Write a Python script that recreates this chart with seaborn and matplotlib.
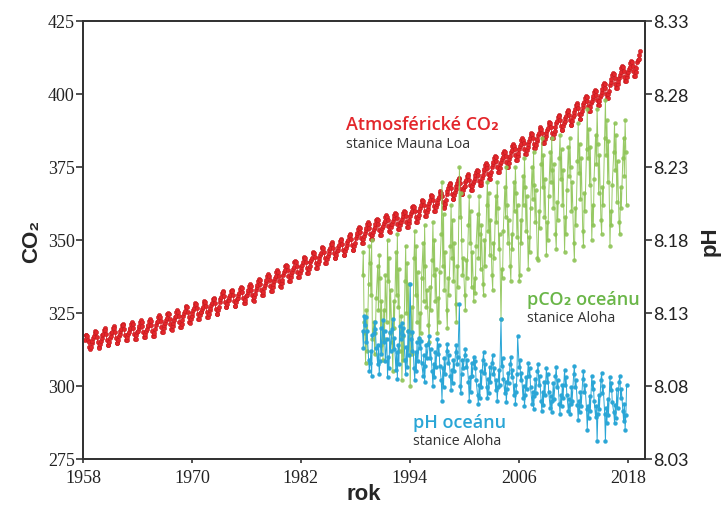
import numpy as np
import pandas as pd
import matplotlib
matplotlib.use("Agg")
import matplotlib.pyplot as plt
import seaborn as sns

# ---------------- data ----------------
# Mauna Loa monthly CO2 (ppm); first row starts in March 1958, last row ends May 2019
ml_start_year = 1958
ml_first_month = 3
ml_co2 = [
    [315.7, 317.5, 317.5, 317.1, 315.9, 314.9, 313.2, 312.7, 313.3, 314.7],
    [315.4, 316.4, 317.0, 318.3, 318.9, 318.4, 316.9, 314.9, 313.2, 313.1, 314.3, 315.4],
    [316.3, 317.3, 317.9, 319.2, 319.8, 319.3, 317.8, 315.8, 314.1, 314.0, 315.2, 316.3],
    [317.0, 318.0, 318.6, 319.9, 320.5, 320.0, 318.5, 316.5, 314.8, 314.7, 315.9, 317.0],
    [317.9, 318.9, 319.5, 320.8, 321.4, 320.9, 319.4, 317.4, 315.7, 315.6, 316.8, 317.9],
    [318.4, 319.4, 320.0, 321.3, 321.9, 321.4, 319.9, 317.9, 316.2, 316.1, 317.3, 318.4],
    [319.0, 320.0, 320.6, 321.9, 322.5, 322.0, 320.5, 318.5, 316.8, 316.7, 317.9, 319.0],
    [319.4, 320.4, 321.0, 322.3, 322.9, 322.4, 320.9, 318.9, 317.2, 317.1, 318.3, 319.4],
    [320.8, 321.8, 322.4, 323.7, 324.3, 323.8, 322.3, 320.3, 318.6, 318.5, 319.7, 320.8],
    [321.6, 322.6, 323.2, 324.5, 325.1, 324.6, 323.1, 321.1, 319.4, 319.3, 320.5, 321.6],
    [322.5, 323.5, 324.1, 325.4, 326.0, 325.5, 324.0, 322.0, 320.3, 320.2, 321.4, 322.5],
    [324.0, 325.0, 325.6, 326.9, 327.5, 327.0, 325.5, 323.5, 321.8, 321.7, 322.9, 324.0],
    [324.9, 325.9, 326.6, 327.9, 328.5, 328.1, 326.7, 324.7, 323.0, 322.9, 324.2, 325.3],
    [325.5, 326.5, 327.2, 328.5, 329.1, 328.7, 327.3, 325.3, 323.6, 323.5, 324.8, 325.9],
    [326.7, 327.7, 328.4, 329.7, 330.3, 329.9, 328.5, 326.5, 324.8, 324.7, 326.0, 327.1],
    [328.9, 329.9, 330.6, 331.9, 332.5, 332.1, 330.7, 328.7, 327.0, 326.9, 328.2, 329.3],
    [329.4, 330.4, 331.1, 332.4, 333.0, 332.6, 331.2, 329.2, 327.5, 327.4, 328.7, 329.8],
    [330.3, 331.3, 332.0, 333.3, 333.9, 333.5, 332.1, 330.1, 328.4, 328.3, 329.6, 330.7],
    [331.2, 332.2, 332.9, 334.2, 334.8, 334.4, 333.0, 331.0, 329.3, 329.2, 330.5, 331.6],
    [333.0, 334.0, 334.7, 336.0, 336.6, 336.2, 334.8, 332.8, 331.1, 331.0, 332.3, 333.4],
    [334.6, 335.6, 336.3, 337.6, 338.2, 337.8, 336.4, 334.4, 332.7, 332.6, 333.9, 335.0],
    [336.0, 337.0, 337.7, 339.0, 339.6, 339.2, 337.8, 335.8, 334.1, 334.0, 335.3, 336.4],
    [337.9, 338.9, 339.6, 341.0, 341.6, 341.1, 339.8, 337.8, 336.1, 336.1, 337.4, 338.5],
    [339.2, 340.2, 340.9, 342.3, 342.9, 342.4, 341.1, 339.1, 337.4, 337.4, 338.7, 339.8],
    [340.6, 341.6, 342.3, 343.7, 344.3, 343.8, 342.5, 340.5, 338.8, 338.8, 340.1, 341.2],
    [342.3, 343.3, 344.0, 345.4, 346.0, 345.5, 344.2, 342.2, 340.5, 340.5, 341.8, 342.9],
    [344.0, 345.0, 345.7, 347.1, 347.7, 347.2, 345.9, 343.9, 342.2, 342.2, 343.5, 344.6],
    [345.5, 346.5, 347.2, 348.6, 349.2, 348.7, 347.4, 345.4, 343.7, 343.7, 345.0, 346.1],
    [346.7, 347.7, 348.4, 349.8, 350.4, 349.9, 348.6, 346.6, 344.9, 344.9, 346.2, 347.3],
    [348.4, 349.4, 350.1, 351.5, 352.1, 351.6, 350.3, 348.3, 346.6, 346.6, 347.9, 349.0],
    [350.8, 351.8, 352.5, 353.9, 354.5, 354.0, 352.7, 350.7, 349.0, 349.0, 350.3, 351.4],
    [352.3, 353.3, 354.0, 355.4, 356.0, 355.5, 354.2, 352.2, 350.5, 350.5, 351.8, 352.9],
    [353.6, 354.6, 355.4, 356.7, 357.3, 356.8, 355.5, 353.5, 351.8, 351.7, 353.1, 354.2],
    [354.8, 355.8, 356.6, 357.9, 358.5, 358.0, 356.7, 354.7, 353.0, 352.9, 354.3, 355.4],
    [355.6, 356.6, 357.4, 358.7, 359.3, 358.8, 357.5, 355.5, 353.8, 353.7, 355.1, 356.2],
    [356.3, 357.3, 358.1, 359.4, 360.0, 359.5, 358.2, 356.2, 354.5, 354.4, 355.8, 356.9],
    [358.1, 359.1, 359.9, 361.2, 361.8, 361.3, 360.0, 358.0, 356.3, 356.2, 357.6, 358.7],
    [360.1, 361.1, 361.9, 363.2, 363.8, 363.3, 362.0, 360.0, 358.3, 358.2, 359.6, 360.7],
    [361.8, 362.8, 363.6, 364.9, 365.5, 365.0, 363.7, 361.7, 360.0, 359.9, 361.3, 362.4],
    [363.0, 364.0, 364.8, 366.1, 366.7, 366.2, 364.9, 362.9, 361.2, 361.1, 362.5, 363.6],
    [365.9, 366.9, 367.7, 369.0, 369.6, 369.1, 367.8, 365.8, 364.1, 364.0, 365.4, 366.5],
    [367.6, 368.6, 369.4, 370.7, 371.3, 370.8, 369.5, 367.5, 365.8, 365.7, 367.1, 368.2],
    [368.6, 369.7, 370.5, 371.8, 372.5, 372.0, 370.7, 368.7, 367.1, 367.1, 368.4, 369.6],
    [370.2, 371.3, 372.1, 373.4, 374.1, 373.6, 372.3, 370.3, 368.7, 368.7, 370.0, 371.2],
    [372.4, 373.5, 374.3, 375.6, 376.3, 375.8, 374.5, 372.5, 370.9, 370.9, 372.2, 373.4],
    [374.9, 376.0, 376.8, 378.1, 378.8, 378.3, 377.0, 375.0, 373.4, 373.4, 374.7, 375.9],
    [376.6, 377.7, 378.5, 379.8, 380.5, 380.0, 378.7, 376.7, 375.1, 375.1, 376.4, 377.6],
    [378.9, 380.0, 380.8, 382.1, 382.8, 382.3, 381.0, 379.0, 377.4, 377.4, 378.7, 379.9],
    [381.0, 382.1, 382.9, 384.2, 384.9, 384.4, 383.1, 381.1, 379.5, 379.5, 380.8, 382.0],
    [382.9, 384.0, 384.8, 386.1, 386.8, 386.3, 385.0, 383.0, 381.4, 381.4, 382.7, 383.9],
    [384.7, 385.8, 386.6, 387.9, 388.6, 388.1, 386.8, 384.8, 383.2, 383.2, 384.5, 385.7],
    [386.5, 387.6, 388.4, 389.7, 390.4, 389.9, 388.6, 386.6, 385.0, 385.0, 386.3, 387.5],
    [388.8, 389.9, 390.7, 392.1, 392.8, 392.4, 391.1, 389.2, 387.6, 387.6, 389.0, 390.2],
    [390.6, 391.7, 392.5, 393.9, 394.6, 394.2, 392.9, 391.0, 389.4, 389.4, 390.8, 392.0],
    [392.8, 393.9, 394.7, 396.1, 396.8, 396.4, 395.1, 393.2, 391.6, 391.6, 393.0, 394.2],
    [395.4, 396.5, 397.3, 398.7, 399.4, 399.0, 397.7, 395.8, 394.2, 394.2, 395.6, 396.8],
    [397.5, 398.6, 399.4, 400.8, 401.5, 401.1, 399.8, 397.9, 396.3, 396.3, 397.7, 398.9],
    [399.7, 400.8, 401.6, 403.0, 403.7, 403.3, 402.0, 400.1, 398.5, 398.5, 399.9, 401.1],
    [403.1, 404.2, 405.0, 406.4, 407.1, 406.7, 405.4, 403.5, 401.9, 401.9, 403.3, 404.5],
    [405.5, 406.6, 407.4, 408.8, 409.5, 409.1, 407.8, 405.9, 404.3, 404.3, 405.7, 406.9],
    [407.4, 408.5, 409.3, 410.7, 411.4, 411.0, 409.7, 407.8, 406.2, 406.2, 407.6, 408.8],
    [410.9, 411.7, 412.1, 413.4, 414.7],
]

# Station ALOHA cruises: first row = 1988 (Oct-Dec), then 1989..2017
hot_start_year = 1988
hot_first_months = [10, 11, 12]
hot_months = [1, 2, 3, 4, 6, 7, 8, 9, 10, 11]
hot_pco2 = [
    [338, 346, 322],
    [318, 308, 326, 312, 335, 348, 342, 331, 350, 316],
    [322, 311, 318, 330, 341, 326, 345, 337, 314, 329],
    [309, 326, 316, 338, 322, 350, 336, 344, 318, 333],
    [315, 305, 329, 320, 346, 331, 352, 327, 340, 312],
    [324, 302, 317, 309, 336, 348, 325, 342, 319, 335],
    [300, 318, 327, 311, 344, 353, 331, 348, 322, 339],
    [316, 325, 318, 337, 349, 329, 355, 341, 327, 333],
    [321, 315, 334, 326, 343, 356, 338, 350, 329, 340],
    [318, 330, 322, 339, 352, 370, 341, 359, 333, 346],
    [326, 320, 337, 331, 348, 362, 344, 357, 336, 349],
    [328, 322, 341, 334, 375, 358, 366, 350, 338, 344],
    [331, 326, 343, 337, 355, 365, 349, 360, 334, 346],
    [329, 337, 332, 348, 359, 344, 365, 352, 340, 355],
    [335, 331, 350, 341, 362, 370, 353, 366, 345, 357],
    [338, 333, 349, 344, 365, 356, 370, 361, 347, 352],
    [323, 340, 337, 353, 368, 358, 375, 362, 349, 357],
    [341, 336, 352, 347, 370, 360, 375, 366, 351, 362],
    [336, 338, 357, 349, 372, 362, 378, 368, 353, 365],
    [340, 351, 346, 361, 375, 364, 380, 369, 356, 367],
    [344, 343, 360, 354, 376, 385, 368, 379, 358, 371],
    [345, 356, 350, 365, 380, 370, 385, 374, 361, 376],
    [352, 347, 363, 357, 378, 386, 371, 381, 362, 374],
    [346, 358, 352, 367, 382, 372, 385, 375, 360, 370],
    [349, 343, 361, 355, 377, 390, 373, 383, 364, 378],
    [353, 348, 366, 360, 381, 395, 378, 388, 369, 382],
    [350, 362, 355, 371, 386, 376, 395, 383, 366, 379],
    [357, 352, 368, 362, 385, 398, 379, 391, 370, 384],
    [348, 360, 355, 369, 380, 390, 374, 386, 363, 377],
    [356, 352, 368, 361, 378, 385, 372, 391, 380, 362],
]
hot_ph = [
    [8.118, 8.106, 8.128],
    [8.122, 8.127, 8.110, 8.118, 8.098, 8.090, 8.096, 8.104, 8.087, 8.115],
    [8.116, 8.124, 8.119, 8.106, 8.095, 8.108, 8.088, 8.097, 8.120, 8.102],
    [8.125, 8.110, 8.118, 8.097, 8.112, 8.086, 8.100, 8.092, 8.117, 8.104],
    [8.119, 8.126, 8.105, 8.113, 8.091, 8.103, 8.085, 8.108, 8.095, 8.121],
    [8.112, 8.123, 8.115, 8.120, 8.098, 8.088, 8.107, 8.093, 8.118, 8.101],
    [8.150, 8.112, 8.104, 8.117, 8.092, 8.084, 8.103, 8.090, 8.110, 8.097],
    [8.113, 8.106, 8.111, 8.096, 8.087, 8.101, 8.083, 8.094, 8.108, 8.099],
    [8.109, 8.114, 8.099, 8.105, 8.090, 8.080, 8.095, 8.086, 8.103, 8.093],
    [8.112, 8.102, 8.108, 8.094, 8.084, 8.070, 8.092, 8.079, 8.099, 8.088],
    [8.104, 8.109, 8.096, 8.101, 8.087, 8.077, 8.091, 8.082, 8.098, 8.090],
    [8.103, 8.108, 8.095, 8.100, 8.136, 8.080, 8.075, 8.088, 8.098, 8.092],
    [8.101, 8.105, 8.093, 8.098, 8.083, 8.070, 8.086, 8.076, 8.096, 8.087],
    [8.100, 8.092, 8.097, 8.084, 8.074, 8.068, 8.081, 8.072, 8.090, 8.079],
    [8.098, 8.103, 8.089, 8.095, 8.079, 8.072, 8.085, 8.075, 8.093, 8.083],
    [8.096, 8.101, 8.088, 8.092, 8.077, 8.084, 8.070, 8.079, 8.091, 8.081],
    [8.126, 8.094, 8.099, 8.085, 8.075, 8.083, 8.069, 8.078, 8.089, 8.082],
    [8.095, 8.100, 8.086, 8.091, 8.074, 8.081, 8.068, 8.076, 8.088, 8.114],
    [8.093, 8.098, 8.084, 8.089, 8.072, 8.080, 8.066, 8.074, 8.086, 8.078],
    [8.096, 8.087, 8.092, 8.079, 8.068, 8.076, 8.064, 8.073, 8.085, 8.075],
    [8.090, 8.095, 8.081, 8.087, 8.070, 8.063, 8.076, 8.067, 8.083, 8.074],
    [8.092, 8.083, 8.088, 8.076, 8.065, 8.073, 8.062, 8.070, 8.082, 8.071],
    [8.087, 8.093, 8.079, 8.084, 8.068, 8.061, 8.074, 8.066, 8.081, 8.072],
    [8.091, 8.081, 8.086, 8.074, 8.063, 8.071, 8.061, 8.068, 8.079, 8.070],
    [8.088, 8.094, 8.079, 8.084, 8.067, 8.057, 8.070, 8.062, 8.076, 8.066],
    [8.085, 8.090, 8.076, 8.081, 8.064, 8.050, 8.066, 8.058, 8.073, 8.063],
    [8.087, 8.078, 8.083, 8.070, 8.059, 8.066, 8.042, 8.061, 8.074, 8.064],
    [8.084, 8.089, 8.075, 8.080, 8.061, 8.042, 8.065, 8.055, 8.071, 8.060],
    [8.086, 8.077, 8.082, 8.069, 8.062, 8.055, 8.067, 8.058, 8.078, 8.065],
    [8.083, 8.087, 8.072, 8.078, 8.063, 8.056, 8.068, 8.050, 8.060, 8.081],
]

x_ticks = [1958, 1970, 1982, 1994, 2006, 2018]
co2_ticks = [275, 300, 325, 350, 375, 400, 425]
ph_ticks = [8.03, 8.08, 8.13, 8.18, 8.23, 8.28, 8.33]

# ---------------- tables ----------------
ml_t, ml_v = [], []
for i, row in enumerate(ml_co2):
    m0 = ml_first_month if i == 0 else 1
    for j, v in enumerate(row):
        ml_t.append(ml_start_year + i + (m0 + j - 0.5) / 12)
        ml_v.append(v)
ml_df = pd.DataFrame({"rok": ml_t, "co2": ml_v})

hot_t, hot_p, hot_h = [], [], []
for i, (prow, hrow) in enumerate(zip(hot_pco2, hot_ph)):
    months = hot_first_months if i == 0 else hot_months
    for m, p, h in zip(months, prow, hrow):
        hot_t.append(hot_start_year + i + (m - 0.5) / 12)
        hot_p.append(p)
        hot_h.append(h)
hot_df = pd.DataFrame({"rok": hot_t, "pco2": hot_p, "ph": hot_h})

# ---------------- style ----------------
sns.set_theme(style="ticks")
plt.rcParams["font.family"] = ["Liberation Serif", "DejaVu Serif"]

RED = "#e3262b"
GREEN = "#8dc455"
BLUE = "#2aa6d6"

fig = plt.figure(figsize=(7.23, 5.06), dpi=100)
ax = fig.add_axes([83 / 723, 46 / 506, 562 / 723, 438 / 506])
ax2 = ax.twinx()

sns.lineplot(data=ml_df, x="rok", y="co2", ax=ax, color=RED, lw=0.7,
             marker="o", markersize=3.0, markeredgecolor="#c41a1e",
             markeredgewidth=0.4, sort=False, estimator=None, zorder=3)
sns.lineplot(data=hot_df, x="rok", y="pco2", ax=ax, color=GREEN, lw=0.7,
             marker="o", markersize=2.8, markeredgecolor=GREEN,
             markeredgewidth=0.3, sort=False, estimator=None, alpha=0.9, zorder=4)
sns.lineplot(data=hot_df, x="rok", y="ph", ax=ax2, color=BLUE, lw=0.7,
             marker="o", markersize=2.8, markeredgecolor=BLUE,
             markeredgewidth=0.3, sort=False, estimator=None, zorder=4)

ax.set_xlim(1958, 2019.9)
ax.set_ylim(275, 425)
ax2.set_ylim(8.03, 8.33)
ax.set_xticks(x_ticks)
ax.set_yticks(co2_ticks)
ax2.set_yticks(ph_ticks)
ax2.set_yticklabels([f"{t:.2f}" for t in ph_ticks])

ax.tick_params(axis="both", labelsize=13, length=5, width=1.1, color="#222222",
               labelcolor="#222222", pad=1)
ax.tick_params(axis="x", length=3, pad=4)
ax2.tick_params(axis="y", labelsize=13, length=5, width=1.1, color="#222222",
                labelcolor="#222222", pad=1)
for lab in ax2.get_yticklabels():
    lab.set_family(["Lato", "DejaVu Sans"])

for a in (ax, ax2):
    for s in a.spines.values():
        s.set_visible(True)
        s.set_linewidth(1.3)
        s.set_color("#333333")
ax.grid(False)
ax2.grid(False)

ax.set_xlabel("rok", fontsize=16, fontweight="bold",
              family=["Liberation Sans", "DejaVu Sans"], labelpad=-2)
ax.set_ylabel("CO₂", fontsize=16, fontweight="bold",
              family=["Liberation Sans", "DejaVu Sans"], labelpad=4)
ax2.set_ylabel("pH", fontsize=16, fontweight="bold",
               family=["Liberation Sans", "DejaVu Sans"], labelpad=8)

lab_font = ["Open Sans", "DejaVu Sans"]
ax.text(1987.0, 389.7, "Atmosférické CO₂", color=RED, fontsize=13,
        fontweight="semibold", family=lab_font, va="center", ha="left", zorder=6)
ax.text(1987.0, 383.0, "stanice Mauna Loa", color="#333333", fontsize=10.3,
        family=lab_font, va="center", ha="left", zorder=6)
ax.text(2006.9, 329.8, "pCO₂ oceánu", color="#6ab648", fontsize=13,
        fontweight="semibold", family=lab_font, va="center", ha="left", zorder=6)
ax.text(2006.9, 323.4, "stanice Aloha", color="#333333", fontsize=10.3,
        family=lab_font, va="center", ha="left", zorder=6)
ax.text(1994.3, 287.7, "pH oceánu", color=BLUE, fontsize=13,
        fontweight="semibold", family=lab_font, va="center", ha="left", zorder=6)
ax.text(1994.3, 281.3, "stanice Aloha", color="#333333", fontsize=10.3,
        family=lab_font, va="center", ha="left", zorder=6)

fig.savefig("out.png", dpi=100)
